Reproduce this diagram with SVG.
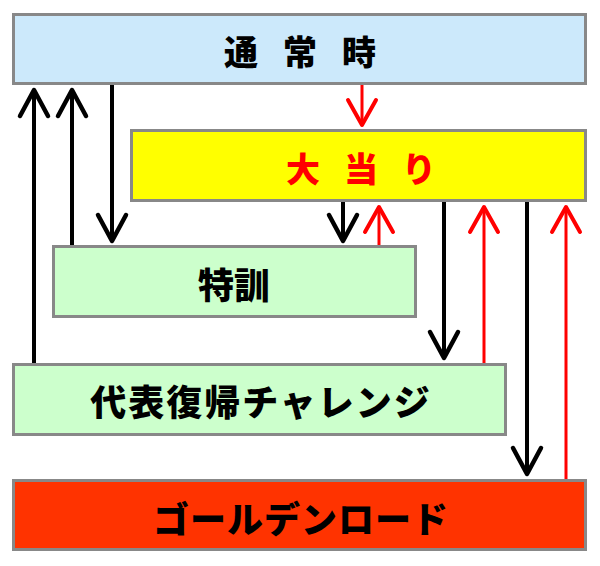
<svg xmlns="http://www.w3.org/2000/svg" width="600" height="566" viewBox="0 0 600 566">
<style>
.box{stroke:#888888;stroke-width:3}
.lbl{font-family:"Noto Sans CJK JP","Noto Sans CJK SC",sans-serif;font-weight:900;dominant-baseline:central;text-anchor:middle}
.blk{stroke:#000;stroke-width:4;fill:none;stroke-linecap:butt}
.red{stroke:#ff0000;stroke-width:3;fill:none}
.hb{stroke:#000;stroke-width:4.5;fill:none;stroke-linecap:round;stroke-linejoin:round}
.hr{stroke:#ff0000;stroke-width:4;fill:none;stroke-linecap:round;stroke-linejoin:round}
</style>
<rect width="600" height="566" fill="#ffffff"/>
<g id="connectors">
<line class="blk" x1="34" y1="363" x2="34" y2="91"/>
<path class="hb" d="M20,116 L34,90 L48,116"/>
<line class="blk" x1="72" y1="245" x2="72" y2="91"/>
<path class="hb" d="M58,116 L72,90 L86,116"/>
<line class="blk" x1="112" y1="85" x2="112" y2="240"/>
<path class="hb" d="M98,215 L112,241 L126,215"/>
<line class="red" x1="362" y1="85" x2="362" y2="124"/>
<path class="hr" d="M348,100 L362,125 L376,100"/>
<line class="blk" x1="343" y1="202" x2="343" y2="240"/>
<path class="hb" d="M329,215 L343,241 L357,215"/>
<line class="red" x1="379" y1="245" x2="379" y2="208"/>
<path class="hr" d="M365,232 L379,207 L393,232"/>
<line class="blk" x1="444" y1="202" x2="444" y2="357"/>
<path class="hb" d="M430,332 L444,358 L458,332"/>
<line class="red" x1="484" y1="363" x2="484" y2="208"/>
<path class="hr" d="M470,232 L484,207 L498,232"/>
<line class="blk" x1="527" y1="202" x2="527" y2="473"/>
<path class="hb" d="M513,448 L527,474 L541,448"/>
<line class="red" x1="566" y1="479" x2="566" y2="208"/>
<path class="hr" d="M552,232 L566,207 L580,232"/>
</g>
<g id="tsujo">
<rect class="box" x="13.5" y="14.5" width="572" height="69" fill="#cce9fb"/>
<text class="lbl" x="241 300 359" y="50" font-size="34" fill="#000">通常時</text>
</g>
<g id="oatari">
<rect class="box" x="131.5" y="130.5" width="454" height="70" fill="#ffff00"/>
<text class="lbl" x="303 361 419" y="167" font-size="34" fill="#ff0000">大当り</text>
</g>
<g id="tokkun">
<rect class="box" x="53.5" y="246.5" width="362" height="70" fill="#ccffcc"/>
<text class="lbl" x="234" y="283" font-size="36" fill="#000">特訓</text>
</g>
<g id="daihyo">
<rect class="box" x="13.5" y="364.5" width="492" height="70" fill="#ccffcc"/>
<text class="lbl" x="261" y="400" font-size="36" letter-spacing="2" fill="#000">代表復帰チャレンジ</text>
</g>
<g id="golden">
<rect class="box" x="13.5" y="480.5" width="572" height="69" fill="#ff3300"/>
<text class="lbl" x="301" y="517" font-size="36" letter-spacing="1" fill="#000">ゴールデンロード</text>
</g>
</svg>
